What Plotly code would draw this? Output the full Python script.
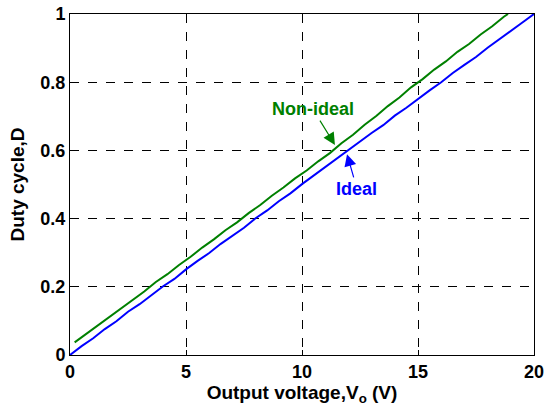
import plotly.graph_objects as go

# Ideal converter: duty cycle vs output voltage
v_ideal = [0.0, 0.5, 1.0, 1.5, 2.0, 2.5, 3.0, 3.5, 4.0, 4.5, 5.0, 5.5, 6.0, 6.5,
           7.0, 7.5, 8.0, 8.5, 9.0, 9.5, 10.0, 10.5, 11.0, 11.5, 12.0, 12.5, 13.0,
           13.5, 14.0, 14.5, 15.0, 15.5, 16.0, 16.5, 17.0, 17.5, 18.0, 18.5, 19.0,
           19.5, 20.0]
d_ideal = [0.000, 0.026, 0.049, 0.076, 0.099, 0.127, 0.149, 0.176, 0.201, 0.223,
           0.251, 0.276, 0.299, 0.326, 0.350, 0.373, 0.401, 0.424, 0.451, 0.474,
           0.501, 0.526, 0.550, 0.577, 0.602, 0.626, 0.651, 0.674, 0.702, 0.725,
           0.751, 0.776, 0.800, 0.827, 0.851, 0.874, 0.901, 0.925, 0.951, 0.975,
           1.000]

# Non-ideal converter (losses included)
v_nonideal = [0.2, 0.7, 1.2, 1.7, 2.2, 2.7, 3.2, 3.7, 4.2, 4.7, 5.2, 5.7, 6.2,
              6.7, 7.2, 7.7, 8.2, 8.7, 9.2, 9.7, 10.2, 10.7, 11.2, 11.7, 12.2,
              12.7, 13.2, 13.7, 14.2, 14.7, 15.2, 15.7, 16.2, 16.7, 17.2, 17.7,
              18.2, 18.7, 18.88]
d_nonideal = [0.037, 0.062, 0.088, 0.111, 0.138, 0.162, 0.186, 0.214, 0.237,
              0.264, 0.288, 0.315, 0.339, 0.366, 0.389, 0.416, 0.440, 0.467,
              0.491, 0.518, 0.541, 0.568, 0.592, 0.621, 0.646, 0.675, 0.701,
              0.730, 0.755, 0.785, 0.809, 0.837, 0.861, 0.889, 0.912, 0.940,
              0.964, 0.992, 1.000]

x_ticks = [0, 5, 10, 15, 20]
y_ticks = [0, 0.2, 0.4, 0.6, 0.8, 1]
y_tick_labels = ["0", "0.2", "0.4", "0.6", "0.8", "1"]

GREEN = "rgb(0,128,0)"
BLUE = "rgb(0,0,255)"
FONT = "Liberation Sans, Arial, sans-serif"
FS = 18
TITLE_FS = 19

fig = go.Figure()
fig.add_trace(go.Scatter(x=v_nonideal, y=d_nonideal, mode="lines",
                         line=dict(color=GREEN, width=2), name="Non-ideal"))
fig.add_trace(go.Scatter(x=v_ideal, y=d_ideal, mode="lines",
                         line=dict(color=BLUE, width=2), name="Ideal"))

# Curve labels; arrows run from each label to its curve
fig.add_annotation(x=11.42, y=0.616, ax=10.47, ay=0.721, axref="x", ayref="y",
                   xref="x", yref="y", text="<b>Non-ideal</b>", showarrow=True,
                   font=dict(color=GREEN, size=FS, family=FONT),
                   arrowcolor=GREEN, arrowwidth=1.2, arrowhead=2, arrowsize=2)
fig.add_annotation(x=11.94, y=0.589, ax=12.37, ay=0.487, axref="x", ayref="y",
                   xref="x", yref="y", text="<b>Ideal</b>", showarrow=True,
                   font=dict(color=BLUE, size=FS, family=FONT),
                   arrowcolor=BLUE, arrowwidth=1.2, arrowhead=2, arrowsize=2)

axis_common = dict(
    showline=True, linecolor="black", linewidth=1, mirror=True,
    showgrid=True, gridcolor="black", gridwidth=1, griddash="dash",
    ticks="inside", ticklen=5, tickcolor="black", zeroline=False,
    automargin=False,
    tickfont=dict(size=FS, color="black", family=FONT),
)

fig.update_xaxes(range=[0, 20], tickvals=x_ticks,
                 ticktext=[f"<b>{t}</b>" for t in x_ticks],
                 title=dict(text="<b>Output voltage,V<sub>o</sub> (V)</b>",
                            font=dict(size=TITLE_FS, color="black", family=FONT),
                            standoff=2),
                 **axis_common)
fig.update_yaxes(range=[0, 1], tickvals=y_ticks,
                 ticktext=[f"<b>{t}</b>" for t in y_tick_labels],
                 title=dict(text="<b>Duty cycle,D</b>",
                            font=dict(size=TITLE_FS, color="black", family=FONT),
                            standoff=10),
                 **axis_common)

fig.update_layout(
    width=546, height=410,
    margin=dict(l=70, r=12, t=14, b=55),
    plot_bgcolor="white", paper_bgcolor="white",
    showlegend=False,
)

fig.write_html("out.html")
